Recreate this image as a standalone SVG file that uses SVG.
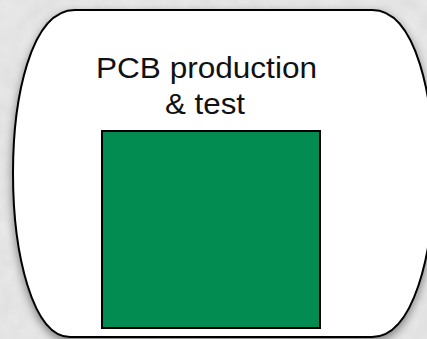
<svg xmlns="http://www.w3.org/2000/svg" width="427" height="339" viewBox="0 0 427 339">
  <style>
    .outline { fill: #ffffff; stroke: #000000; stroke-width: 2; }
    .label { font-family: "Liberation Sans", Arial, sans-serif; font-size: 29px; fill: #111111; text-anchor: middle; }
    .board { fill: #038c51; stroke: #000000; stroke-width: 2; }
    .conn { stroke: #000000; stroke-width: 1.5; fill: none; }
  </style>
  <defs>
    <filter id="noise" x="0" y="0" width="100%" height="100%">
      <feTurbulence type="fractalNoise" baseFrequency="0.05" numOctaves="3" seed="4" result="n"/>
      <feColorMatrix type="matrix" values="0 0 0 0 0  0 0 0 0 0  0 0 0 0 0  0 0 0 0.06 0" />
    </filter>
    <filter id="shadow" x="-20%" y="-20%" width="140%" height="140%">
      <feDropShadow dx="0" dy="4" stdDeviation="5" flood-color="#000000" flood-opacity="0.45"/>
    </filter>
  </defs>
  <rect x="0" y="0" width="427" height="339" fill="#ebebeb"/>
  <rect x="0" y="0" width="427" height="339" filter="url(#noise)"/>
  <g id="connectors">
    <line class="conn" x1="423" y1="95" x2="427" y2="95"/>
  </g>
  <g id="pcb-production">
    <path class="outline" filter="url(#shadow)" d="M75,10 H372 C417,10 434,100 434,173 C434,255 413,337 372,337 H70 C33,337 13,255 13,173 C13,100 30,10 75,10 Z"/>
    <text class="label" x="206.5" y="78" textLength="221" lengthAdjust="spacingAndGlyphs">PCB production</text>
    <text class="label" x="205" y="114" textLength="80" lengthAdjust="spacingAndGlyphs">&amp; test</text>
  </g>
  <g id="pcb-board">
    <rect class="board" x="102" y="131" width="218" height="197"/>
  </g>
</svg>
